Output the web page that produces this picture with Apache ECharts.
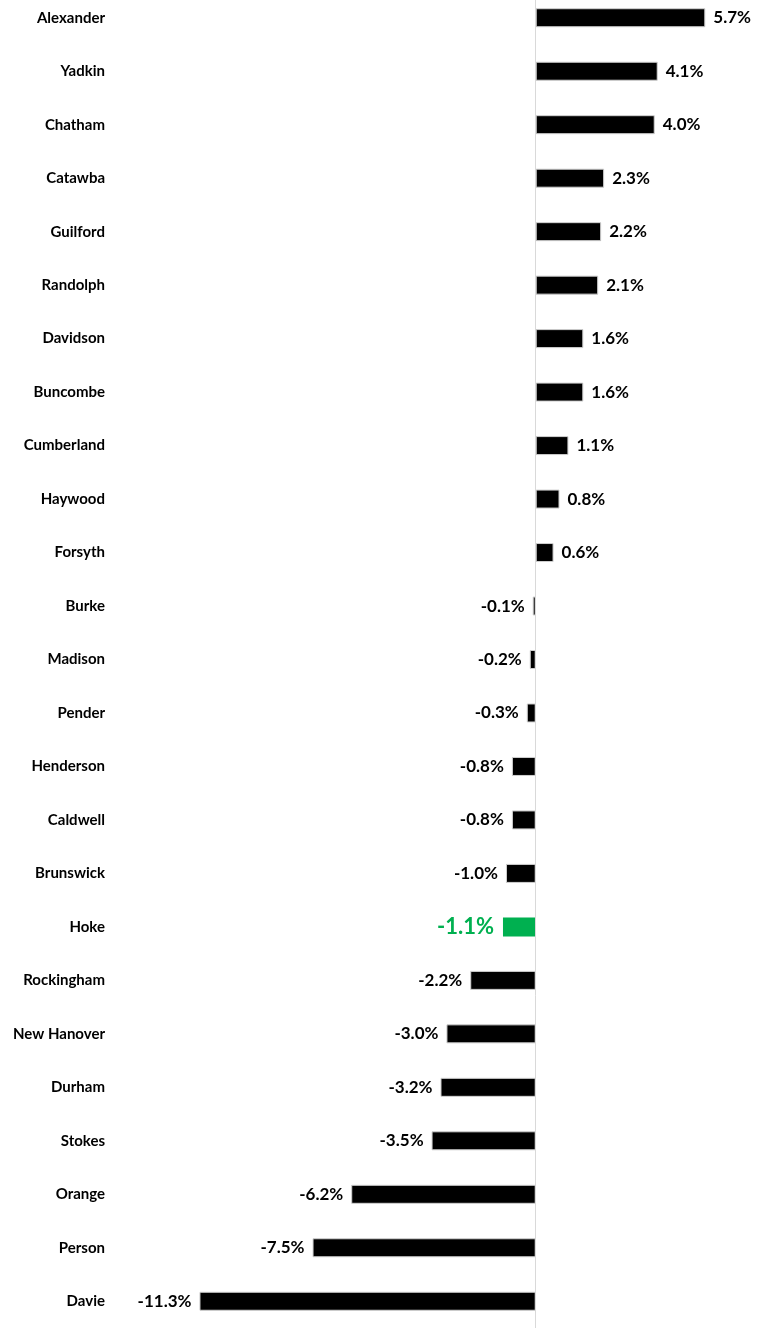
<!DOCTYPE html>
<html>
<head>
<meta charset="utf-8">
<script src="https://cdn.jsdelivr.net/npm/echarts@6/dist/echarts.min.js"></script>
<style>
  html, body { margin: 0; padding: 0; background: #fff; }
  #chart { width: 758px; height: 1328px; }
</style>
</head>
<body>
<div id="chart"></div>
<script>
'use strict'

const counties = ['Alexander', 'Yadkin', 'Chatham', 'Catawba', 'Guilford', 'Randolph', 'Davidson',
  'Buncombe', 'Cumberland', 'Haywood', 'Forsyth', 'Burke', 'Madison', 'Pender', 'Henderson',
  'Caldwell', 'Brunswick', 'Hoke', 'Rockingham', 'New Hanover', 'Durham', 'Stokes', 'Orange',
  'Person', 'Davie'];
const changes = [5.7, 4.1, 4.0, 2.3, 2.2, 2.1, 1.6, 1.6, 1.1, 0.8, 0.6, -0.1, -0.2, -0.3, -0.8,
  -0.8, -1.0, -1.1, -2.2, -3.0, -3.2, -3.5, -6.2, -7.5, -11.3];
const highlight = 'Hoke';

const FONT = 'Lato, "Open Sans", sans-serif';
const GREEN = '#00b050';

const barData = changes.map((v, i) => {
  const isHi = counties[i] === highlight;
  return {
    value: v,
    itemStyle: { color: isHi ? GREEN : '#000', borderColor: isHi ? GREEN : '#d0d0d0', borderWidth: isHi ? 0 : 1 },
    label: {
      position: v < 0 ? 'left' : 'right',
      color: isHi ? GREEN : '#000',
      fontSize: isHi ? 22 : 17,
      distance: isHi ? 9 : 8
    }
  };
});

const chart = echarts.init(document.getElementById('chart'));
chart.setOption({
  animation: false,
  grid: { left: 134, right: 14, top: -9, bottom: 0, containLabel: false, outerBoundsMode: 'none' },
  xAxis: {
    type: 'value', min: -13.5, max: 7,
    show: false
  },
  yAxis: {
    type: 'category', inverse: true, data: counties,
    axisLine: { show: false }, axisTick: { show: false },
    axisLabel: { margin: 29, color: '#000', fontFamily: FONT, fontWeight: 'bold', fontSize: 15 }
  },
  series: [{
    type: 'bar',
    data: barData,
    barWidth: 19,
    label: {
      show: true, fontFamily: FONT, fontWeight: 'bold',
      formatter: (p) => p.value.toFixed(1) + '%'
    },
    markLine: {
      silent: true, symbol: 'none', label: { show: false },
      lineStyle: { color: '#d9d9d9', type: 'solid', width: 1 },
      data: [{ xAxis: 0 }]
    }
  }]
});
</script>
</body>
</html>
